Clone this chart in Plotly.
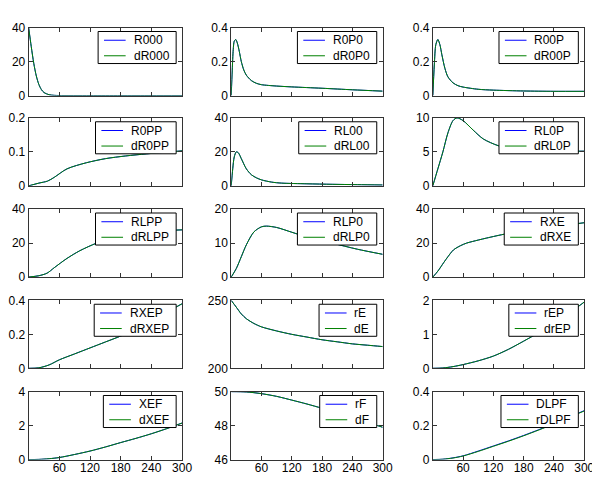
import plotly.graph_objects as go

# ---------------- data ----------------
names_blue = ["R000", "R0P0", "R00P", "R0PP", "RL00", "RL0P", "RLPP", "RLP0",
              "RXE", "RXEP", "rE", "rEP", "XEF", "rF", "DLPF"]
names_green = ["dR000", "dR0P0", "dR00P", "dR0PP", "dRL00", "dRL0P", "dRLPP", "dRLP0",
               "dRXE", "dRXEP", "dE", "drEP", "dXEF", "dF", "rDLPF"]

x_R000 = [0, 5, 10, 15, 20, 25, 30, 40, 50, 60, 120, 180, 240, 300]
y_R000 = [40, 29, 19, 11.5, 6.5, 3.5, 1.8, 0.5, 0.12, 0.03, 0, 0, 0, 0]

x_R0P0 = [0, 2, 4, 6, 9, 12, 16, 20, 25, 30, 40, 50, 60, 90, 120, 180, 240, 300]
y_R0P0 = [0, 0.15, 0.27, 0.32, 0.33, 0.31, 0.26, 0.2, 0.15, 0.12, 0.088, 0.072, 0.064,
          0.056, 0.051, 0.043, 0.034, 0.026]

x_R00P = [0, 3, 6, 10, 14, 18, 24, 30, 40, 50, 60, 90, 120, 180, 240, 300]
y_R00P = [0, 0.18, 0.3, 0.33, 0.3, 0.24, 0.16, 0.11, 0.075, 0.058, 0.05, 0.037, 0.032,
          0.027, 0.025, 0.025]

x_R0PP = [0, 20, 37, 50, 75, 113, 150, 190, 230, 270, 300]
y_R0PP = [0, 0.008, 0.014, 0.025, 0.05, 0.068, 0.08, 0.088, 0.094, 0.099, 0.103]

x_RL00 = [0, 3, 6, 10, 14, 20, 30, 40, 50, 60, 80, 100, 150, 200, 250, 300]
y_RL00 = [0, 10, 17, 20, 19.5, 16, 10, 6.5, 4.7, 3.5, 2.2, 1.6, 1.2, 0.9, 0.7, 0.5]

x_RL0P = [0, 10, 20, 30, 40, 48, 60, 80, 100, 130, 160, 200, 250, 300]
y_RL0P = [0, 2.5, 5, 7.8, 9.6, 10, 9.6, 8.2, 6.9, 5.9, 5.4, 5.2, 5.1, 5.1]

x_RLPP = [0, 20, 36, 50, 75, 100, 133, 160, 200, 250, 300]
y_RLPP = [0, 0.8, 2.3, 5.5, 11, 15.5, 20, 22.5, 25, 27, 27.8]

x_RLP0 = [0, 10, 20, 30, 45, 60, 70, 90, 120, 150, 200, 250, 300]
y_RLP0 = [0, 2.5, 6, 9.5, 13.3, 14.8, 15, 14.6, 13.2, 11.8, 10, 8.2, 6.7]

x_RXE = [0, 10, 22, 30, 41, 55, 67, 90, 107, 146, 200, 250, 300]
y_RXE = [0, 3.5, 8.7, 12, 16, 18.5, 20, 21.8, 23, 25.5, 27.8, 30, 32]

x_RXEP = [0, 20, 40, 60, 90, 120, 150, 180, 210, 240, 270, 300]
y_RXEP = [0, 0.003, 0.02, 0.05, 0.085, 0.12, 0.155, 0.19, 0.23, 0.28, 0.33, 0.38]

x_rE = [0, 10, 20, 30, 45, 60, 90, 120, 150, 180, 210, 240, 270, 300]
y_rE = [250, 245, 240, 236.5, 233, 230.5, 227.5, 225, 223, 221, 219.5, 218, 217, 216]

x_rEP = [0, 20, 40, 60, 90, 120, 150, 180, 210, 240, 270, 300]
y_rEP = [0, 0.01, 0.05, 0.11, 0.22, 0.36, 0.56, 0.8, 1.05, 1.32, 1.62, 1.95]

x_XEF = [0, 20, 40, 60, 90, 120, 150, 180, 210, 240, 270, 300]
y_XEF = [0, 0.01, 0.05, 0.12, 0.3, 0.5, 0.74, 1.0, 1.25, 1.52, 1.82, 2.15]

x_rF = [0, 30, 60, 90, 120, 150, 180, 210, 240, 270, 300]
y_rF = [50, 49.98, 49.88, 49.72, 49.5, 49.27, 49.02, 48.76, 48.5, 48.2, 47.9]

x_DLPF = [0, 20, 40, 60, 90, 120, 150, 180, 210, 240, 270, 300]
y_DLPF_blue = [0, 0.002, 0.01, 0.022, 0.05, 0.08, 0.11, 0.142, 0.176, 0.212, 0.25, 0.288]
y_DLPF_green = [0, 0.002, 0.009, 0.021, 0.048, 0.078, 0.108, 0.14, 0.174, 0.21, 0.248, 0.286]

series_x = [x_R000, x_R0P0, x_R00P, x_R0PP, x_RL00, x_RL0P, x_RLPP, x_RLP0,
            x_RXE, x_RXEP, x_rE, x_rEP, x_XEF, x_rF, x_DLPF]
series_blue = [y_R000, y_R0P0, y_R00P, y_R0PP, y_RL00, y_RL0P, y_RLPP, y_RLP0,
               y_RXE, y_RXEP, y_rE, y_rEP, y_XEF, y_rF, y_DLPF_blue]
series_green = [y_R000, y_R0P0, y_R00P, y_R0PP, y_RL00, y_RL0P, y_RLPP, y_RLP0,
                y_RXE, y_RXEP, y_rE, y_rEP, y_XEF, y_rF, y_DLPF_green]

y_ranges = [[0, 40], [0, 0.4], [0, 0.4], [0, 0.2], [0, 40], [0, 10], [0, 40], [0, 20],
            [0, 40], [0, 0.4], [200, 250], [0, 2], [0, 4], [46, 50], [0, 0.4]]
y_ticks = [[0, 20, 40], [0, 0.2, 0.4], [0, 0.2, 0.4], [0, 0.1, 0.2], [0, 20, 40],
           [0, 5, 10], [0, 20, 40], [0, 10, 20], [0, 20, 40], [0, 0.2, 0.4],
           [200, 250], [0, 1, 2], [0, 2, 4], [46, 48, 50], [0, 0.2, 0.4]]
y_ticktext = [["0", "20", "40"], ["0", "0.2", "0.4"], ["0", "0.2", "0.4"], ["0", "0.1", "0.2"],
              ["0", "20", "40"], ["0", "5", "10"], ["0", "20", "40"], ["0", "10", "20"],
              ["0", "20", "40"], ["0", "0.2", "0.4"], ["200", "250"], ["0", "1", "2"],
              ["0", "2", "4"], ["46", "48", "50"], ["0", "0.2", "0.4"]]
x_ticks = [60, 120, 180, 240, 300]
x_ticktext = ["60", "120", "180", "240", "300"]

# ---------------- layout geometry (pixels) ----------------
W, H = 600, 477
col_px = [(21, 177), (227, 381), (432, 586)]
row_px = [(13, 83), (106, 176), (200, 270), (294, 364), (388, 458)]
FS = 12
FONT = "Liberation Sans, Arial, Helvetica, sans-serif"

# Arial advance widths (per 1000 em) for legend box sizing
CW = {"R": 722, "0": 556, "d": 556, "P": 667, "L": 556, "X": 667, "E": 667,
      "F": 611, "r": 333, "D": 722}


def text_w(s):
    return sum(CW.get(ch, 600) for ch in s) / 1000 * FS


def px(xp):
    return xp / W


def py(yp):
    return 1 - yp / H


fig = go.Figure()
layout = dict(
    width=W, height=H, margin=dict(l=0, r=0, t=0, b=0),
    paper_bgcolor="white", plot_bgcolor="white", showlegend=False,
    font=dict(family=FONT, size=FS, color="black"),
)
shapes, annots = [], []
BLUE, GREEN = "#0000ff", "#008000"

for i in range(15):
    r, c = divmod(i, 3)
    k = "" if i == 0 else str(i + 1)
    xa, ya = "x" + k, "y" + k
    fig.add_trace(go.Scatter(x=series_x[i], y=series_blue[i], mode="lines", name=names_blue[i],
                             line=dict(color=BLUE, width=1, shape="spline", smoothing=0.8),
                             xaxis=xa, yaxis=ya))
    fig.add_trace(go.Scatter(x=series_x[i], y=series_green[i], mode="lines", name=names_green[i],
                             line=dict(color=GREEN, width=1, shape="spline", smoothing=0.8),
                             xaxis=xa, yaxis=ya))
    x0, x1 = col_px[c]
    y0, y1 = row_px[r]
    axcommon = dict(showgrid=False, zeroline=False, showline=True, linecolor="#333",
                    linewidth=1, mirror="allticks", ticks="inside", ticklen=4,
                    tickcolor="#333", tickfont=dict(family=FONT, size=FS, color="black"))
    layout["xaxis" + k] = dict(
        domain=[px(x0), px(x1)], range=[0, 300], anchor=ya,
        tickvals=x_ticks, ticktext=x_ticktext, showticklabels=(r == 4),
        ticklabelstandoff=-3, **axcommon)
    layout["yaxis" + k] = dict(
        domain=[py(y1), py(y0)], range=y_ranges[i], anchor=xa,
        tickvals=y_ticks[i], ticktext=y_ticktext[i], **axcommon)

    # legend box (MATLAB style, top-right inside the axes)
    tw = max(text_w(names_blue[i]), text_w(names_green[i]))
    bw, bh = tw + 44, 33
    br = x1 - 6
    bt = y0 + 4
    bl = br - bw
    shapes.append(dict(type="rect", xref="paper", yref="paper",
                       x0=px(bl), x1=px(br), y0=py(bt + bh), y1=py(bt),
                       line=dict(color="black", width=1), fillcolor="white", layer="above"))
    for j, (nm, col) in enumerate([(names_blue[i], BLUE), (names_green[i], GREEN)]):
        yc = bt + 9 + 16 * j
        shapes.append(dict(type="line", xref="paper", yref="paper",
                           x0=px(bl + 6), x1=px(bl + 28), y0=py(yc), y1=py(yc),
                           line=dict(color=col, width=1), layer="above"))
        annots.append(dict(text=nm, xref="paper", yref="paper", x=px(bl + 34), y=py(yc),
                           xanchor="left", yanchor="middle", showarrow=False,
                           font=dict(family=FONT, size=FS, color="black")))

layout["shapes"] = shapes
layout["annotations"] = annots
fig.update_layout(**layout)
fig.write_html("out.html")
